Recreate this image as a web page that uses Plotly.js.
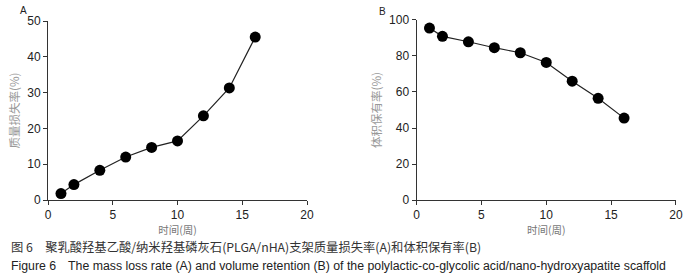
<!DOCTYPE html>
<html><head><meta charset="utf-8">
<script src="https://cdn.plot.ly/plotly-3.0.1.min.js"></script>
<style>html,body{margin:0;padding:0;background:#fff;}#chart{width:700px;height:280px;}</style>
</head><body><div id="chart"></div>
<script>
const weeks = [1, 2, 4, 6, 8, 10, 12, 14, 16];
const massLoss = [1.8, 4.3, 8.3, 12.0, 14.7, 16.5, 23.5, 31.3, 45.5];
const volumeRetention = [95.5, 90.9, 87.9, 84.6, 81.8, 76.4, 66.0, 56.5, 45.5];
const xTitle = '时间(周)';
const yTitleA = '质量损失率(%)';
const yTitleB = '体积保有率(%)';
const captionCN = '图 6　聚乳酸羟基乙酸/纳米羟基磷灰石(PLGA/nHA)支架质量损失率(A)和体积保有率(B)';
const captionEN = 'Figure 6　The mass loss rate (A) and volume retention (B) of the polylactic-co-glycolic acid/nano-hydroxyapatite scaffold';

const lineStyle = {color: '#222', width: 1.2};
const markerStyle = {color: '#000', size: 11};
const traces = [
  {x: weeks, y: massLoss, xaxis: 'x', yaxis: 'y', mode: 'lines+markers', line: lineStyle, marker: markerStyle},
  {x: weeks, y: volumeRetention, xaxis: 'x2', yaxis: 'y2', mode: 'lines+markers', line: lineStyle, marker: markerStyle}
];
const tickFont = {family: 'Liberation Sans, Arial, sans-serif', size: 12, color: '#222'};
const axBase = {showgrid: false, zeroline: false, showline: true, linecolor: '#333', linewidth: 1,
  ticks: 'outside', ticklen: 4, tickcolor: '#333', tickfont: tickFont, fixedrange: true};
const cjk = 'Noto Sans CJK SC, sans-serif';
const layout = {
  width: 700, height: 280, showlegend: false,
  margin: {l: 0, r: 0, t: 0, b: 0},
  paper_bgcolor: '#fff', plot_bgcolor: '#fff',
  xaxis: Object.assign({}, axBase, {domain: [0.0686, 0.4386], range: [0, 20], tickvals: [0, 5, 10, 15, 20], anchor: 'y',
    title: {text: xTitle, font: {family: cjk, size: 10.5, color: '#777'}, standoff: 4}}),
  yaxis: Object.assign({}, axBase, {domain: [0.2857, 0.925], range: [0, 50], tickvals: [0, 10, 20, 30, 40, 50], anchor: 'x',
    title: {text: yTitleA, font: {family: cjk, size: 11.5, color: '#999'}, standoff: 5}}),
  xaxis2: Object.assign({}, axBase, {domain: [0.595, 0.9657], range: [0, 20], tickvals: [0, 5, 10, 15, 20], anchor: 'y2',
    title: {text: xTitle, font: {family: cjk, size: 10.5, color: '#777'}, standoff: 4}}),
  yaxis2: Object.assign({}, axBase, {domain: [0.2857, 0.9286], range: [0, 100], tickvals: [0, 20, 40, 60, 80, 100], anchor: 'x2',
    title: {text: yTitleB, font: {family: cjk, size: 11.5, color: '#999'}, standoff: 5}}),
  annotations: [
    {text: 'A', xref: 'paper', yref: 'paper', x: 18/700, y: 1 - 11/280, xanchor: 'left', yanchor: 'middle', showarrow: false,
      font: {family: 'Liberation Sans, Arial', size: 10, color: '#222'}},
    {text: 'B', xref: 'paper', yref: 'paper', x: 377/700, y: 1 - 12/280, xanchor: 'left', yanchor: 'middle', showarrow: false,
      font: {family: 'Liberation Sans, Arial', size: 10, color: '#222'}},
    {text: captionCN, xref: 'paper', yref: 'paper', x: 9/700, y: 1 - 247/280, xanchor: 'left', yanchor: 'middle', showarrow: false,
      font: {family: cjk, size: 12.3, color: '#333'}},
    {text: captionEN, xref: 'paper', yref: 'paper', x: 9/700, y: 1 - 266/280, xanchor: 'left', yanchor: 'middle', showarrow: false,
      font: {family: 'Liberation Sans, Arial', size: 12.3, color: '#222'}}
  ]
};
Plotly.newPlot('chart', traces, layout, {displayModeBar: false, staticPlot: true});
</script></body></html>
